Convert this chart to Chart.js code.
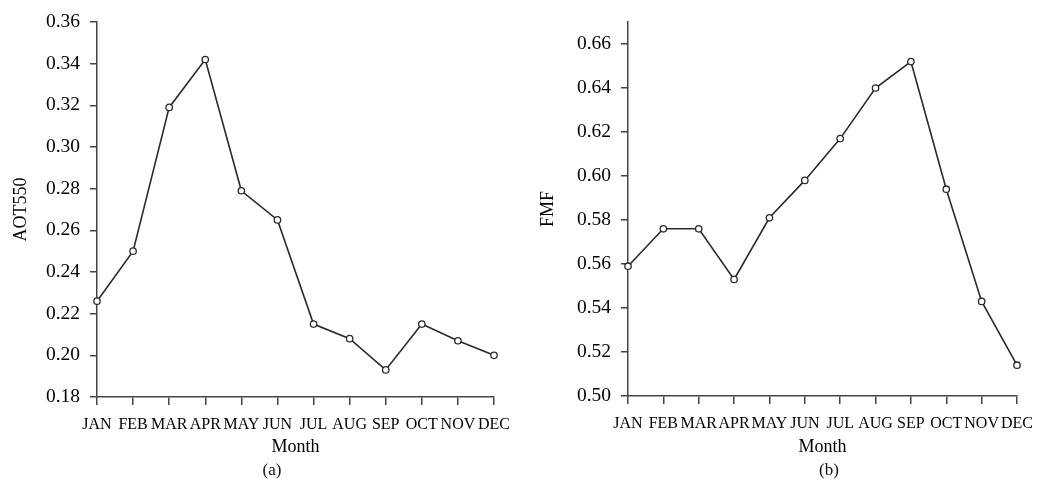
<!DOCTYPE html>
<html>
<head>
<meta charset="utf-8">
<script src="https://cdn.jsdelivr.net/npm/chart.js@4"></script>
<style>
  body { margin: 0; background: #fff; }
  #wrap { position: relative; width: 1043px; height: 486px; }
  .panel { position: absolute; top: 0; height: 486px; }
  .cap { position: absolute; font-family: 'Liberation Serif', serif; font-size: 17px; color: #111; transform: translateX(-50%); }
</style>
</head>
<body>
<div id="wrap">
  <div class="panel" style="left:0;width:521px"><canvas id="chartA"></canvas></div>
  <div class="panel" style="left:521px;width:522px"><canvas id="chartB"></canvas></div>
  <div class="cap" style="left:272px;top:460px">(a)</div>
  <div class="cap" style="left:829px;top:460px">(b)</div>
</div>
<script>
// 월 카테고리
const months = ['JAN', 'FEB', 'MAR', 'APR', 'MAY', 'JUN', 'JUL', 'AUG', 'SEP', 'OCT', 'NOV', 'DEC'];

// (a) AOT550 월평균
const aotValues = [0.226, 0.250, 0.319, 0.342, 0.279, 0.265, 0.215, 0.208, 0.193, 0.215, 0.207, 0.200];
const aotTicks = [0.18, 0.20, 0.22, 0.24, 0.26, 0.28, 0.30, 0.32, 0.34, 0.36];

// (b) FMF 월평균
const fmfValues = [0.559, 0.576, 0.576, 0.553, 0.581, 0.598, 0.617, 0.640, 0.652, 0.594, 0.543, 0.514];
const fmfTicks = [0.50, 0.52, 0.54, 0.56, 0.58, 0.60, 0.62, 0.64, 0.66];

const serif = 'Liberation Serif';
const axisColor = '#444';
const lineColor = '#2a2a2a';

// 패널 하나를 그리는 함수
function makePanel(canvasId, values, ticks, yMax, yTitle, opts) {
    const ctx = document.getElementById(canvasId).getContext('2d');
    return new Chart(ctx, {
        type: 'line',
        data: {
            labels: months,
            datasets: [{
                data: values,
                borderColor: lineColor,
                borderWidth: 1.6,
                pointRadius: 3.2,
                pointBorderWidth: 1.3,
                pointBackgroundColor: '#fff',
                pointBorderColor: lineColor,
                tension: 0,
                clip: false
            }]
        },
        options: {
            responsive: true,
            maintainAspectRatio: false,
            animation: false,
            layout: { padding: { top: opts.top, right: opts.right, left: 0, bottom: 0 } },
            plugins: { legend: { display: false }, tooltip: { enabled: false } },
            scales: {
                x: {
                    offset: false,
                    grid: { drawOnChartArea: false, offset: false, tickLength: 8, color: axisColor, lineWidth: 1.5 },
                    border: { color: axisColor, width: 1.5 },
                    ticks: {
                        autoSkip: false, maxRotation: 0, minRotation: 0, padding: 10,
                        color: '#000', font: { family: serif, size: 16 }
                    },
                    title: {
                        display: true, text: 'Month', color: '#000',
                        font: { family: serif, size: 18 }, padding: { top: 0, bottom: 28 }
                    },
                    afterFit: function (s) { s.height = 486 - opts.bottomEdge; }
                },
                y: {
                    min: ticks[0],
                    max: yMax,
                    afterBuildTicks: function (s) { s.ticks = ticks.map(v => ({ value: v })); },
                    grid: { drawOnChartArea: false, tickLength: 7, color: axisColor, lineWidth: 1.5 },
                    border: { color: axisColor, width: 1.5 },
                    ticks: {
                        padding: 10, color: '#000', font: { family: serif, size: 19.5 },
                        callback: v => Number(v).toFixed(2)
                    },
                    title: {
                        display: true, text: yTitle, color: '#000',
                        font: { family: serif, size: 18 }, padding: { top: opts.titlePad, bottom: 0 }
                    },
                    afterFit: function (s) { s.width = opts.yWidth; }
                }
            }
        }
    });
}

makePanel('chartA', aotValues, aotTicks, 0.36, 'AOT550',
    { top: 22, right: 27, bottomEdge: 397, yWidth: 97, titlePad: 10 });
makePanel('chartB', fmfValues, fmfTicks, 0.67, 'FMF',
    { top: 22, right: 18, bottomEdge: 396, yWidth: 107, titlePad: 16 });
</script>
</body>
</html>
